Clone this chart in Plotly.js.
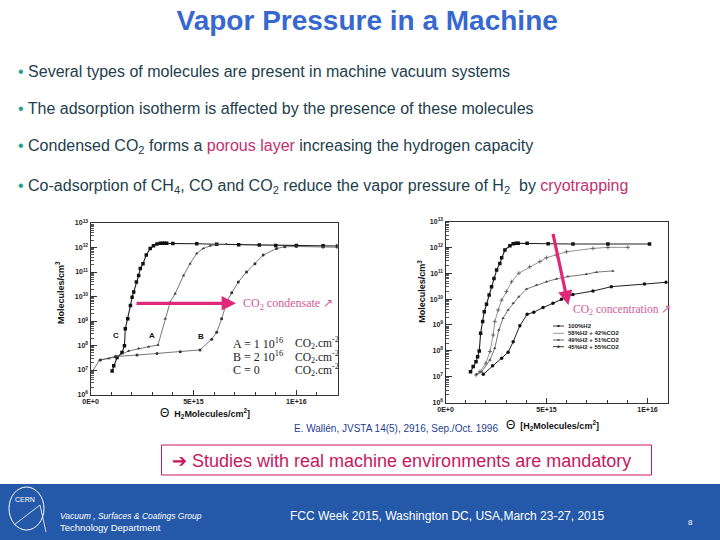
<!DOCTYPE html>
<html><head><meta charset="utf-8">
<script src="https://cdn.plot.ly/plotly-3.0.1.min.js"></script>
<style>html,body{margin:0;padding:0;background:#fff}#chart{width:720px;height:540px}</style>
</head><body><div id="chart"></div>
<script>
// ---------- data : left panel (CO2 condensate) ----------
const leftC_x = [1.05e15,1.13e15,1.29e15,1.53e15,1.65e15,1.69e15,1.81e15,1.94e15,2.02e15,2.10e15,2.23e15,2.34e15,2.42e15,2.55e15,2.71e15,2.90e15,3.06e15,3.23e15,3.39e15,3.50e15,3.60e15,3.70e15,4.00e15,5.16e15,6.13e15,7.20e15,8.20e15,9.00e15,10.0e15,11.3e15,12.0e15];
const leftC_y = [9.1e6,1.48e7,3.24e7,5.13e7,9.8e7,4.8e8,1.23e9,4.27e9,9.3e9,1.51e10,3.89e10,7.24e10,1.38e11,2.19e11,4.9e11,9.1e11,1.17e12,1.38e12,1.48e12,1.48e12,1.48e12,1.48e12,1.45e12,1.42e12,1.35e12,1.3e12,1.26e12,1.22e12,1.2e12,1.17e12,1.15e12];
const leftA_x = [0.05e15,0.45e15,0.89e15,1.29e15,1.85e15,2.34e15,2.82e15,3.28e15,3.63e15,3.87e15,4.11e15,4.52e15,4.84e15,5.16e15,5.48e15,5.81e15,6.13e15,6.6e15];
const leftA_y = [7.76e6,2.57e7,2.95e7,3.55e7,6.03e7,7.59e7,8.91e7,1.05e8,1.23e9,5.89e9,1.29e10,7.24e10,2.19e11,5.75e11,9.12e11,1.17e12,1.32e12,1.35e12];
const leftB_x = [0.48e15,1.21e15,2.26e15,3.23e15,4.36e15,5.32e15,5.89e15,6.13e15,6.37e15,6.62e15,6.86e15,7.18e15,7.58e15,7.99e15,8.39e15,9.04e15,9.44e15,10.0e15,11.3e15,12.0e15];
const leftB_y = [2.57e7,3.55e7,4.07e7,4.68e7,5.5e7,6.61e7,1.82e8,3.47e8,1.23e9,5.89e9,1.41e10,3.89e10,1.0e11,2.19e11,4.9e11,9.12e11,1.07e12,1.1e12,1.05e12,1.03e12];

// ---------- data : right panel (CO2 concentration) ----------
const seriesNames = ['100%H2','58%H2 + 42%CO2','49%H2 + 51%CO2','45%H2 + 55%CO2'];
const r1_x = [1.24e15,1.37e15,1.51e15,1.59e15,1.67e15,1.74e15,1.84e15,1.92e15,2.03e15,2.16e15,2.28e15,2.40e15,2.53e15,2.69e15,2.78e15,2.94e15,3.19e15,3.35e15,3.50e15,3.60e15,4.04e15,5.08e15,6.31e15,8.04e15,10.1e15];
const r1_y = [1.55e7,2.45e7,3.8e7,5.89e7,9.77e7,4.79e8,1.35e9,3.24e9,6.31e9,1.45e10,3.02e10,6.31e10,1.32e11,2.4e11,3.98e11,7.94e11,1.15e12,1.38e12,1.45e12,1.45e12,1.45e12,1.38e12,1.35e12,1.35e12,1.35e12];
const r2_x = [1.51e15,1.70e15,2.00e15,2.20e15,2.36e15,2.44e15,2.61e15,2.78e15,3.02e15,3.27e15,3.63e15,4.17e15,4.67e15,5.00e15,5.49e15,5.99e15,7.30e15,8.04e15,9.03e15];
const r2_y = [1.15e7,1.55e7,3.31e7,9.33e7,4.07e8,1.35e9,3.8e9,9.12e9,1.95e10,4.68e10,1.0e11,1.78e11,2.82e11,3.98e11,5.01e11,6.76e11,9.12e11,1.0e12,1.0e12];
const r3_x = [1.54e15,1.79e15,2.20e15,2.44e15,2.64e15,2.85e15,3.10e15,3.35e15,3.63e15,4.01e15,4.50e15,5.00e15,5.49e15,6.06e15,6.97e15,7.47e15,8.29e15];
const r3_y = [1.23e7,1.55e7,4.37e7,1.26e8,6.31e8,1.82e9,3.8e9,6.92e9,1.23e10,2.45e10,3.47e10,4.68e10,6.03e10,7.41e10,9.12e10,1.1e11,1.23e11];
const r4_x = [1.87e15,2.33e15,2.78e15,3.10e15,3.35e15,3.68e15,4.04e15,4.37e15,4.83e15,5.32e15,5.74e15,6.31e15,7.30e15,8.21e15,9.85e15,10.92e15];
const r4_y = [1.23e7,2.63e7,5.13e7,8.71e7,2.24e8,9.33e8,2.57e9,3.09e9,4.68e9,6.92e9,9.77e9,1.51e10,2.04e10,3.02e10,3.8e10,4.47e10];

// ---------- tick labels ----------
const xTickVals = [0, 5e15, 1e16];
const xTickTextLeft = ['0E+0','5E+15','1E+16'];
const xTickTextRight = ['0E+0','5E+15','1E+16'];
const yTickVals = [1e6,1e7,1e8,1e9,1e10,1e11,1e12,1e13];
const yTickText = ['10<sup>6</sup>','10<sup>7</sup>','10<sup>8</sup>','10<sup>9</sup>','10<sup>10</sup>','10<sup>11</sup>','10<sup>12</sup>','10<sup>13</sup>'];

// ---------- texts ----------
const slideTitle = 'Vapor Pressure in a Machine';
const bullets = [
  'Several types of molecules are present in machine vacuum systems',
  'The adsorption isotherm is affected by the presence of these molecules',
  'Condensed CO<sub>2</sub> forms a <span style="color:#c2306e">porous layer</span> increasing the hydrogen capacity',
  'Co-adsorption of CH<sub>4</sub>, CO and CO<sub>2</sub> reduce the vapor pressure of H<sub>2</sub>  by <span style="color:#c2306e">cryotrapping</span>'
];

const W = 720, H = 540;
const px = v => v / W, py = v => 1 - v / H;
const lineCol = '#333';

const traces = [
  {x: leftC_x, y: leftC_y, xaxis:'x', yaxis:'y', mode:'lines+markers', line:{color:'#222', width:1.1}, marker:{symbol:'square', size:3.5, color:'#111'}, name:'C'},
  {x: leftA_x, y: leftA_y, xaxis:'x', yaxis:'y', mode:'lines+markers', line:{color:'#555', width:0.8}, marker:{symbol:'triangle-up', size:3, color:'#333'}, name:'A'},
  {x: leftB_x, y: leftB_y, xaxis:'x', yaxis:'y', mode:'lines+markers', line:{color:'#555', width:0.8}, marker:{symbol:'circle', size:3, color:'#333'}, name:'B'},
  {x: r1_x, y: r1_y, xaxis:'x2', yaxis:'y2', mode:'lines+markers', line:{color:'#222', width:1.1}, marker:{symbol:'square', size:3.5, color:'#111'}, name: seriesNames[0]},
  {x: r2_x, y: r2_y, xaxis:'x2', yaxis:'y2', mode:'lines+markers', line:{color:'#666', width:0.7}, marker:{symbol:'cross-thin-open', size:3, color:'#555', line:{width:0.8, color:'#555'}}, name: seriesNames[1]},
  {x: r3_x, y: r3_y, xaxis:'x2', yaxis:'y2', mode:'lines+markers', line:{color:'#555', width:0.8}, marker:{symbol:'triangle-up', size:3, color:'#444'}, name: seriesNames[2]},
  {x: r4_x, y: r4_y, xaxis:'x2', yaxis:'y2', mode:'lines+markers', line:{color:'#222', width:1}, marker:{symbol:'circle', size:3.5, color:'#111'}, name: seriesNames[3]}
];

const tickFont = {family:'Arial, Liberation Sans', size:7, color:'#222', weight:'bold'};
function xAxis(domain, range, ttext){
  return {domain, range, tickmode:'array', tickvals:xTickVals, ticktext:ttext, ticks:'inside', ticklen:5, tickcolor:lineCol,
    minor:{tickmode:'linear', tick0:0, dtick:1e15, ticks:'inside', ticklen:3, tickcolor:lineCol, showgrid:false},
    showline:true, mirror:true, linecolor:lineCol, linewidth:1, showgrid:false, zeroline:false, tickfont:tickFont, fixedrange:true};
}
function yAxis(domain){
  return {type:'log', domain, range:[6,13], tickmode:'array', tickvals:yTickVals, ticktext:yTickText, ticks:'inside', ticklen:6, tickcolor:lineCol,
    minor:{dtick:'D1', ticks:'inside', ticklen:3, tickcolor:'#555', showgrid:false},
    showline:true, mirror:true, linecolor:lineCol, linewidth:1, showgrid:false, zeroline:false, tickfont:tickFont, fixedrange:true};
}

const pink = '#e0287a';
const ann = [];
function txt(x, y, text, font, opts){
  ann.push(Object.assign({xref:'paper', yref:'paper', x:px(x), y:py(y), xanchor:'center', yanchor:'middle', showarrow:false, text, font}, opts||{}));
}
// bullets
const bulletY = [71, 109, 147, 186];
bullets.forEach((t,i)=>{
  txt(16, bulletY[i], '<span style="color:#2a9d8f">•</span> ' + t, {family:'Liberation Sans, Arial', size:16, color:'#22404c'}, {xanchor:'left', align:'left'});
});
// left panel annotations
ann.push({xref:'paper', yref:'paper', x:px(236), y:py(303.3), ax:-101, ay:0, showarrow:true, arrowhead:2, arrowsize:0.9, arrowwidth:3.2, arrowcolor:pink, text:''});
txt(241, 304, 'CO<sub>2</sub> condensate ↗', {family:'Liberation Serif, Times New Roman', size:12, color:'#d45a98'}, {xanchor:'left'});
[['C',116,335.7],['A',151.7,335.7],['B',200.7,336]].forEach(l=>{
  txt(l[1], l[2], l[0], {family:'Arial', size:8, color:'#111', weight:'bold'});
});
const legLeft = [['A = 1 10<sup>16</sup>', 343.3], ['B = 2 10<sup>16</sup>', 356.7], ['C = 0', 370]];
legLeft.forEach(l=>{
  txt(231, l[1], l[0], {family:'Liberation Serif, Times New Roman', size:12, color:'#222'}, {xanchor:'left'});
  txt(293, l[1], 'CO<sub>2</sub>.cm<sup>-2</sup>', {family:'Liberation Serif, Times New Roman', size:11.5, color:'#222'}, {xanchor:'left'});
});
// axis titles (left)
txt(60, 293, 'Molecules/cm<sup>3</sup>', {family:'Arial', size:9, color:'#111', weight:'bold'}, {textangle:-90});
txt(205, 413, '<span style="font-size:12px;font-weight:normal">Θ</span>  H<sub>2</sub>Molecules/cm<sup>2</sup>]', {family:'Arial', size:9, color:'#111', weight:'bold'});
// right panel annotations
ann.push({xref:'paper', yref:'paper', x:px(568.3), y:py(305), ax:-15.6, ay:-72.7, showarrow:true, arrowhead:2, arrowsize:0.9, arrowwidth:3.2, arrowcolor:pink, text:''});
txt(571, 310, 'CO<sub>2</sub> concentration ↗', {family:'Liberation Serif, Times New Roman', size:11.5, color:'#d45a98'}, {xanchor:'left'});
txt(421.7, 291, 'Molecules/cm<sup>3</sup>', {family:'Arial', size:9, color:'#111', weight:'bold'}, {textangle:-90});
txt(552, 425, '<span style="font-size:12px;font-weight:normal">Θ</span>  [H<sub>2</sub>Molecules/cm<sup>2</sup>]', {family:'Arial', size:9, color:'#111', weight:'bold'});
// manual legend (right)
const legY = [326, 333.3, 340, 346.7];
legY.forEach((y,i)=>{
  txt(566, y, seriesNames[i], {family:'Arial', size:6, color:'#222', weight:'bold'}, {xanchor:'left'});
});
// citation
txt(292, 428.5, 'E. Wallén, JVSTA 14(5), 2916, Sep./Oct. 1996', {family:'Arial', size:10, color:'#1f3f8f'}, {xanchor:'left'});
// box text
txt(401, 461, '➔ Studies with real machine environments are mandatory', {family:'Liberation Sans, Arial', size:18, color:'#c8175d'});
// footer texts
txt(58, 515.5, '<i>Vacuum , Surfaces &amp; Coatings Group</i>', {family:'Arial', size:8.5, color:'#fff'}, {xanchor:'left'});
txt(58, 527.5, 'Technology Department', {family:'Arial', size:9.5, color:'#fff'}, {xanchor:'left'});
txt(447, 516, 'FCC Week 2015, Washington DC, USA,March 23-27, 2015', {family:'Liberation Sans, Arial', size:12, color:'#fff'});
txt(690, 522, '8', {family:'Arial', size:8, color:'#fff'});
txt(25, 499, 'CERN', {family:'Arial', size:7, color:'#fff'});

const shapes = [
  {type:'rect', xref:'paper', yref:'paper', x0:0, x1:1, y0:0, y1:py(484), fillcolor:'#2459a9', line:{width:0}, layer:'below'},
  {type:'circle', xref:'paper', yref:'paper', x0:px(9), x1:px(44), y0:py(530), y1:py(487), line:{color:'#fff', width:1}},
  {type:'line', xref:'paper', yref:'paper', x0:px(14), x1:px(40), y0:py(525), y1:py(505), line:{color:'#fff', width:0.8}},
  {type:'line', xref:'paper', yref:'paper', x0:px(40), x1:px(46), y0:py(505), y1:py(532), line:{color:'#fff', width:0.8}},
  {type:'rect', xref:'paper', yref:'paper', x0:px(161.5), x1:px(651.5), y0:py(475), y1:py(445), line:{color:'#c8175d', width:1}},
];
legY.forEach((y,i)=>{
  const c = (i===0||i===3) ? '#222' : '#555';
  shapes.push({type:'line', xref:'paper', yref:'paper', x0:px(553), x1:px(564), y0:py(y), y1:py(y), line:{color:c, width:i===1?0.6:0.9}});
  if(i!==1) shapes.push({type:'rect', xref:'paper', yref:'paper', x0:px(557.5), x1:px(559.5), y0:py(y+1), y1:py(y-1), fillcolor:c, line:{width:0}});
});

const layout = {
  width: W, height: H, margin:{l:0,r:0,t:0,b:0}, showlegend:false,
  paper_bgcolor:'#fff', plot_bgcolor:'#fff',
  title:{text:'<b>'+slideTitle+'</b>', x:0.51, xanchor:'center', y:py(20), yanchor:'middle', font:{family:'Liberation Sans, Arial', size:28, color:'#3768d0'}},
  xaxis: Object.assign(xAxis([px(90.5), px(337.5)], [0, 1.2e16], xTickTextLeft), {anchor:'y'}),
  yaxis: Object.assign(yAxis([py(394.5), py(223)]), {anchor:'x'}),
  xaxis2: Object.assign(xAxis([px(445.5), px(667.7)], [0, 1.1e16], xTickTextRight), {anchor:'y2'}),
  yaxis2: Object.assign(yAxis([py(402.5), py(221.5)]), {anchor:'x2'}),
  annotations: ann, shapes: shapes
};
Plotly.newPlot('chart', traces, layout, {staticPlot:true, displayModeBar:false});
</script></body></html>
